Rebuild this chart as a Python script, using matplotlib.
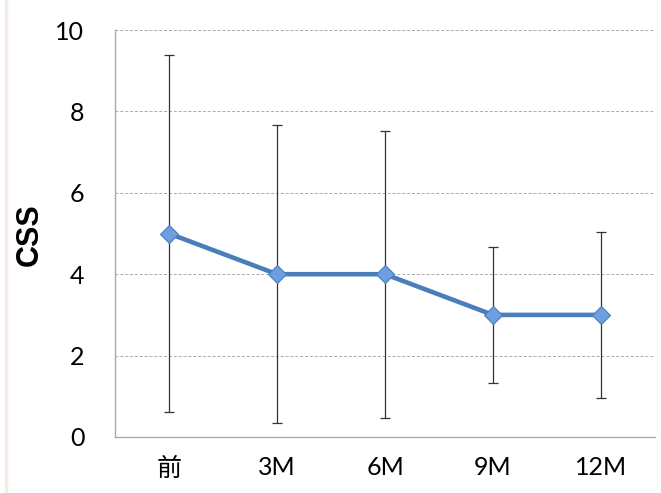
import matplotlib.pyplot as plt
from matplotlib.patches import Rectangle

labels = ['前', '3M', '6M', '9M', '12M']
css = [5, 4, 4, 3, 3]
sd = [4.39, 3.66, 3.53, 1.67, 2.03]

plt.rcParams['font.family'] = ['Lato', 'Noto Sans CJK JP', 'DejaVu Sans']

fig = plt.figure(figsize=(6.61, 4.93), dpi=100)
ax = fig.add_axes([115 / 661, 1 - 437 / 493, 540 / 661, 407 / 493])

# faint pink strip on the left edge
fig.patches.append(Rectangle((5 / 661, 0), 2 / 661, 1, transform=fig.transFigure,
                             color='#f6eaea', zorder=0))

x = list(range(len(labels)))
ax.errorbar(x, css, yerr=sd, fmt='none', ecolor='#333333', elinewidth=0.9,
            capsize=3.5, capthick=0.9, zorder=2)
ax.plot(x, css, '-', color='#4a7ebb', lw=3.3, zorder=3)
ax.plot(x, css, 'D', color='#6d9ee0', mec='#4a7ebb', mew=0.8, ms=9, zorder=4)

ax.set_xlim(-0.5, 4.5)
ax.set_ylim(0, 10)
ax.set_yticks([0, 2, 4, 6, 8, 10])
ax.set_xticks(x)
ax.set_xticklabels(labels)
ax.yaxis.grid(True, ls=(0, (3, 2)), color='#aaaaaa', lw=0.7)
ax.set_axisbelow(True)

for s in ['top', 'right']:
    ax.spines[s].set_visible(False)
for s in ['left', 'bottom']:
    ax.spines[s].set_color('#aaaaaa')
    ax.spines[s].set_linewidth(1)

ax.tick_params(axis='both', length=0, labelsize=18, colors='black')
ax.tick_params(axis='y', pad=22)
ax.tick_params(axis='x', pad=14)

fig.text(30 / 661, 1 - 235 / 493, 'CSS', rotation=90, ha='center', va='center',
         fontsize=22, fontweight='bold', family='Liberation Sans')

fig.savefig('out.png', dpi=100)
